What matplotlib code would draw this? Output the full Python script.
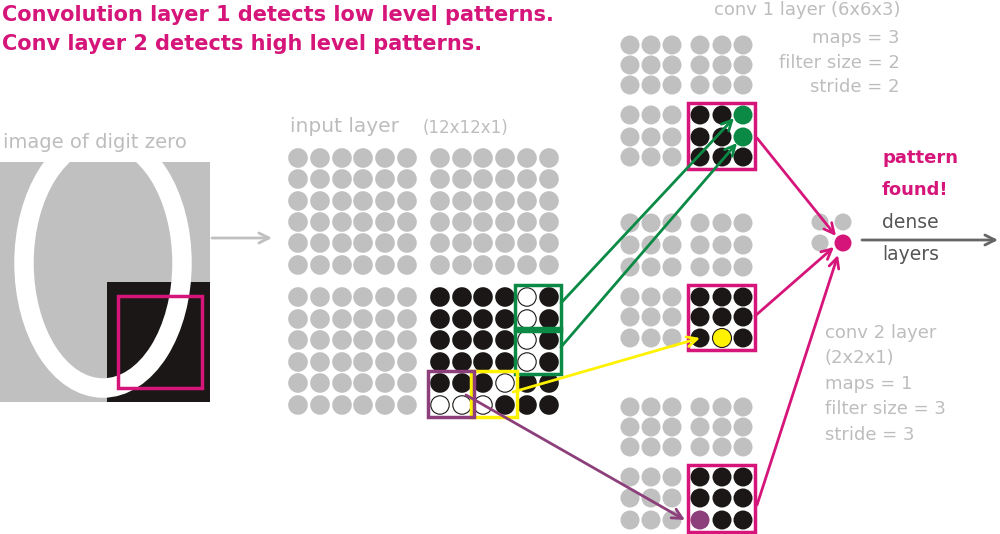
import numpy as np
import matplotlib.pyplot as plt
from matplotlib.patches import Rectangle, Ellipse, Circle

GRAY = '#c0c0c0'
BLACK = '#1a1716'
MAG = '#d6157a'
GREEN = '#0a8a45'
YELLOW = '#fff200'
PURPLE = '#8c3f7a'
TXT = '#bdbdbd'

# input layer quadrant centres (px)
in_x_left = [298, 320, 342, 363, 385, 407]
in_x_right = [440, 462, 483, 505, 527, 549]
in_y_top = [158, 179, 201, 222, 243, 265]
in_y_bot = [297, 319, 340, 362, 383, 405]
# bottom-right quadrant pattern: 1 black, 0 white
pattern = [[1, 1, 1, 1, 0, 1],
           [1, 1, 1, 1, 0, 1],
           [1, 1, 1, 1, 0, 1],
           [1, 1, 1, 1, 0, 1],
           [1, 1, 1, 0, 1, 1],
           [0, 0, 0, 1, 1, 1]]

# conv 1 maps
c1_x = [630, 651, 672, 700, 722, 743]
c1_rows = [[45, 65, 85, 115, 137, 157],
           [223, 245, 267, 297, 317, 338],
           [407, 427, 447, 477, 498, 520]]
c1_marks = [{(0, 2): GREEN, (1, 2): GREEN}, {(2, 1): YELLOW}, {(2, 0): PURPLE}]

# conv 2 layer
c2_x = [820, 843]
c2_y = [222, 243]

fig = plt.figure(figsize=(10, 5.34), dpi=100)
ax = fig.add_axes([0, 0, 1, 1])
ax.set_xlim(0, 1000)
ax.set_ylim(534, 0)
ax.axis('off')

# digit image
ax.add_patch(Rectangle((0, 162), 210, 240, color=GRAY, lw=0))
ax.add_patch(Rectangle((107, 282), 103, 120, color=BLACK, lw=0))
ax.add_patch(Ellipse((103, 263), 158, 250, fill=False, ec='white', lw=14))
ax.add_patch(Rectangle((118, 296), 84, 92, fill=False, ec=MAG, lw=2.5))

def dot(x, y, r, fc, ec='none', lw=0.8):
    ax.add_patch(Circle((x, y), r, fc=fc, ec=ec, lw=lw))

# input layer
for ys in (in_y_top, in_y_bot):
    for xs in (in_x_left, in_x_right):
        for i, y in enumerate(ys):
            for j, x in enumerate(xs):
                if ys is in_y_bot and xs is in_x_right:
                    if pattern[i][j]:
                        dot(x, y, 9.8, BLACK)
                    else:
                        dot(x, y, 9.2, 'white', BLACK, 0.8)
                else:
                    dot(x, y, 9.8, GRAY)

def box(xs, ys, i0, j0, n, col):
    x0 = xs[j0] - 12
    y0 = ys[i0] - 12
    w = xs[j0 + n - 1] - xs[j0] + 24
    h = ys[i0 + n - 1] - ys[i0] + 24
    ax.add_patch(Rectangle((x0, y0), w, h, fill=False, ec=col, lw=2.5))

box(in_x_right, in_y_bot, 0, 4, 2, GREEN)
box(in_x_right, in_y_bot, 2, 4, 2, GREEN)
box(in_x_right, in_y_bot, 4, 2, 2, YELLOW)
box(in_x_right, in_y_bot, 4, 0, 2, PURPLE)

# conv 1 maps
for ys, marks in zip(c1_rows, c1_marks):
    for i, y in enumerate(ys):
        for j, x in enumerate(c1_x):
            if i >= 3 and j >= 3:
                c = marks.get((i - 3, j - 3), BLACK)
                dot(x, y, 9.5, c, BLACK if c == YELLOW else 'none')
            else:
                dot(x, y, 9.5, GRAY)
    box(c1_x, ys, 3, 3, 3, MAG)

# conv 2
for i, y in enumerate(c2_y):
    for j, x in enumerate(c2_x):
        dot(x, y, 8.5, MAG if (i, j) == (1, 1) else GRAY)

def arrow(p, q, col, lw=2):
    ax.annotate('', xy=q, xytext=p,
                arrowprops=dict(arrowstyle='->', color=col, lw=lw,
                                mutation_scale=18, shrinkA=0, shrinkB=0))

arrow((561, 303), (734, 118), GREEN)
arrow((561, 347), (737, 143), GREEN)
arrow((513, 392), (700, 338), YELLOW)
arrow((466, 395), (685, 520), PURPLE)
arrow((757, 138), (836, 236), MAG)
arrow((755, 316), (834, 247), MAG)
arrow((757, 505), (838, 255), MAG)
arrow((862, 240), (998, 240), '#666666')
arrow((212, 238), (272, 238), GRAY)

# text
ax.text(2, 15, 'Convolution layer 1 detects low level patterns.', color=MAG,
        fontsize=15, fontweight='bold', va='center')
ax.text(2, 44, 'Conv layer 2 detects high level patterns.', color=MAG,
        fontsize=15, fontweight='bold', va='center')
ax.text(3, 143, 'image of digit zero', color=TXT, fontsize=14, va='center')
ax.text(290, 126, 'input layer', color=TXT, fontsize=14.5, va='center')
ax.text(423, 128, '(12x12x1)', color=TXT, fontsize=12, va='center')
for y, s in zip([10, 38, 63, 87], ['conv 1 layer (6x6x3)', 'maps = 3',
                                   'filter size = 2', 'stride = 2']):
    ax.text(900, y, s, color=TXT, fontsize=13, ha='right', va='center')
ax.text(882, 158, 'pattern', color=MAG, fontsize=13, fontweight='bold', va='center')
ax.text(882, 190, 'found!', color=MAG, fontsize=13, fontweight='bold', va='center')
ax.text(882, 222, 'dense', color='#555555', fontsize=13.5, va='center')
ax.text(882, 254, 'layers', color='#555555', fontsize=13.5, va='center')
for y, s in zip([333, 358, 384, 409, 435], ['conv 2 layer', '(2x2x1)', 'maps = 1',
                                            'filter size = 3', 'stride = 3']):
    ax.text(825, y, s, color=TXT, fontsize=13, va='center')

fig.savefig('out.png', dpi=100)
